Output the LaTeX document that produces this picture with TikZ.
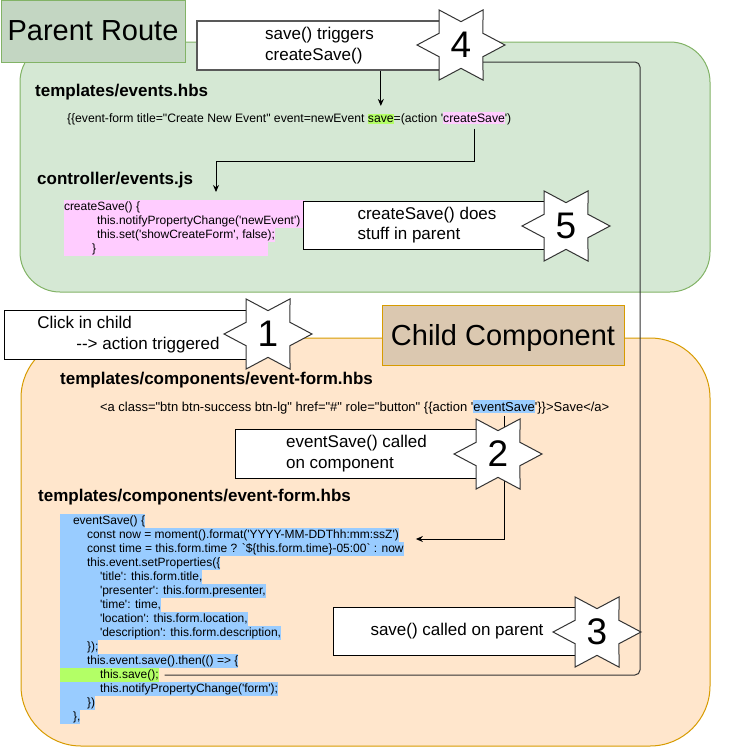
\documentclass[tikz,border=0pt]{standalone}
\usepackage{fontspec}
\setmainfont{Liberation Sans}[Ligatures=TeXOff]
\usetikzlibrary{positioning, arrows.meta, calc}

\definecolor{parentfill}{HTML}{D5E8D4}
\definecolor{parentline}{HTML}{82B366}
\definecolor{parenttitle}{HTML}{C3D6C2}
\definecolor{childfill}{HTML}{FFE6CC}
\definecolor{childline}{HTML}{D79B00}
\definecolor{childtitle}{HTML}{DBC8B0}
\definecolor{codeblue}{HTML}{99CCFF}
\definecolor{codegreen}{HTML}{B3FF66}
\definecolor{codepink}{HTML}{FFCCFF}

\newcommand{\titlefont}{\fontsize{29}{34}\selectfont}
\newcommand{\headfont}{\fontsize{17}{20}\selectfont\bfseries}
\newcommand{\notefont}{\fontsize{17}{20.5}\selectfont}
\newcommand{\codefont}{\fontsize{12}{14}\selectfont}
\newcommand{\digitfont}{\fontsize{37}{40}\selectfont}

% six-pointed star with its number
\newcommand{\numstar}[3]{%
  \path[starline] (#2) +(0:44 and 40.5)
    \foreach \k [evaluate=\k as \f using {1-0.423*mod(\k,2)}] in {1,...,11} {
      -- +(\k*30:{44*\f} and {40.5*\f})
    } -- cycle;
  \node[stardigit] (#1) at (#2) {#3};
}

\begin{document}
\begin{tikzpicture}
        [
            x=1pt, y=-1pt,
            region/.style={line width=1pt, rounded corners=#1},
            title/.style={draw, line width=1pt, font=\titlefont, inner sep=0pt, text depth=0pt},
            heading/.style={anchor=west, inner sep=0pt, font=\headfont, text height=12.2pt, text depth=0pt},
            note/.style={draw, fill=white, line width=1pt, font=\notefont, align=left, inner sep=0pt},
            codeln/.style={anchor=west, inner sep=0pt, outer sep=0pt, minimum height=14pt,
                text height=8.6pt, text depth=2.6pt, font=\codefont},
            codebit/.style={anchor=base west, inner xsep=0pt, inner ysep=1.5pt, outer sep=0pt,
                font=\fontsize{#1}{14}\selectfont},
            codebit/.default=12.2,
            flow/.style={line width=1pt, -{Stealth[length=7pt, width=6pt]}},
            link/.style={line width=1pt, rounded corners=5pt, draw=black!80},
            starline/.style={fill=white, draw=black!80, line width=1pt},
            stardigit/.style={inner sep=0pt, font=\digitfont},
        ]
        \useasboundingbox (0,0) rectangle (734,747);

        % regions
        \draw[region=40pt, fill=parentfill, draw=parentline] (20,42) rectangle (710,292);
        \draw[region=60pt, fill=childfill, draw=childline] (21,338) rectangle (710,746);
        \node[title, fill=parenttitle, draw=parentline, minimum width=184pt, minimum height=62pt] (parent) at (93,31) {Parent Route};
        \node[title, fill=childtitle, draw=childline, minimum width=242pt, minimum height=60pt] (child) at (503,335) {Child Component};

        % star centres
        \coordinate (st4) at (461,45);
        \coordinate (st5) at (566,226);
        \coordinate (st1) at (268,334);
        \coordinate (st2) at (498,454);
        \coordinate (st3) at (597,632);

        % parent route
        \node[heading] (hbshead) at (35,90) {templates/events.hbs};
        \node[codebit] (hbs1) at (67,122) {\{\{event-form title="Create New Event" event=newEvent\ \null};
        \node[codebit, fill=codegreen] (hbssave) at (hbs1.base east) {save};
        \node[codebit] (hbs2) at (hbssave.base east) {=(action '};
        \node[codebit, fill=codepink] (hbscs) at (hbs2.base east) {createSave};
        \node[codebit] (hbs3) at (hbscs.base east) {')};

        \node[heading] (ctrlhead) at (37,178) {controller/events.js};
        \node[codeln, fill=codepink] (cs1) at (64,207) {\makebox[241pt][l]{createSave() \{}};
        \node[codeln, fill=codepink] (cs2) at (64,221) {\makebox[241pt][l]{\hspace*{33pt}this.notifyPropertyChange('newEvent')}};
        \node[codeln, fill=codepink] (cs3) at (64,235) {\hspace*{33pt}this.set('showCreateForm', false);};
        \node[codeln, fill=codepink] (cs4) at (64,249) {\makebox[204pt][l]{\hspace*{28pt}\}}};

        % child component
        \node[heading] (formhead) at (60,378) {templates/components/event-form.hbs};
        \node[codebit=13] (lnk1) at (100,411) {<a class="btn btn-success btn-lg" href="\#" role="button" \{\{action '};
        \node[codebit=13, fill=codeblue] (lnkes) at (lnk1.base east) {eventSave};
        \node[codebit=13] (lnk2) at (lnkes.base east) {'\}\}>Save</a>};

        \node[heading] (comphead) at (38,495) {templates/components/event-form.hbs};
        \node[codeln, fill=codeblue] (c01) at (60,521) {\hspace*{13pt}eventSave() \{};
        \node[codeln, fill=codeblue] (c02) at (60,535) {\hspace*{27pt}const now = moment().format('YYYY-MM-DDThh:mm:ssZ')};
        \node[codeln, fill=codeblue] (c03) at (60,549) {\hspace*{27pt}const time = this.form.time ? `\$\{this.form.time\}-05:00` : now};
        \node[codeln, fill=codeblue] (c04) at (60,563) {\hspace*{27pt}this.event.setProperties(\{};
        \node[codeln, fill=codeblue] (c05) at (60,577) {\hspace*{40pt}'title': this.form.title,};
        \node[codeln, fill=codeblue] (c06) at (60,591) {\hspace*{40pt}'presenter': this.form.presenter,};
        \node[codeln, fill=codeblue] (c07) at (60,605) {\hspace*{40pt}'time': time,};
        \node[codeln, fill=codeblue] (c08) at (60,619) {\hspace*{40pt}'location': this.form.location,};
        \node[codeln, fill=codeblue] (c09) at (60,633) {\hspace*{40pt}'description': this.form.description,};
        \node[codeln, fill=codeblue] (c10) at (60,647) {\hspace*{27pt}\});};
        \node[codeln, fill=codeblue] (c11) at (60,661) {\hspace*{27pt}this.event.save().then(() => \{};
        \node[codeln, fill=codegreen] (c12) at (60,675) {\hspace*{40pt}this.save();};
        \node[codeln, fill=codeblue] (c13) at (60,689) {\hspace*{40pt}this.notifyPropertyChange('form');};
        \node[codeln, fill=codeblue] (c14) at (60,703) {\hspace*{27pt}\})};
        \node[codeln, fill=codeblue] (c15) at (60,717) {\hspace*{13pt}\},};

        % connectors
        \coordinate (ctrlin) at (216,192);
        \coordinate (rail) at (640,62);
        \draw[link] ([xshift=6pt]c12.east) -| (rail) -- (rail -| st4);
        \draw[flow] ([yshift=-5pt]hbscs.south) -- ++(0,33) -| (ctrlin);
        \draw[flow] ([yshift=-3pt]lnkes.south) |- ([xshift=17pt, yshift=-4pt]c02.east);

        % notes
        \node[note, draw=black!65, line width=1.5pt, minimum width=245pt, minimum height=49pt] (note4) at (319.5,45.5) {save() triggers\\createSave()};
        \draw[flow] (note4.south -| hbssave.north) -- ([yshift=8pt]hbssave.north);
        \node[note, minimum width=248pt, minimum height=48pt] (note5) at (427,225) {createSave() does\\stuff in parent};
        \node[note, minimum width=249pt, minimum height=49pt] (note1) at (128.5,334.5) {Click in child\\\hspace*{39pt}--> action triggered};
        \node[note, minimum width=243pt, minimum height=49pt] (note2) at (356.5,453.5) {eventSave() called\\on component};
        \node[note, minimum width=248pt, minimum height=48pt] (note3) at (457,631) {save() called on parent};

        % numbered stars
        \numstar{s4}{st4}{4}
        \numstar{s5}{st5}{5}
        \numstar{s1}{st1}{1}
        \numstar{s2}{st2}{2}
        \numstar{s3}{st3}{3}
    \end{tikzpicture}
\end{document}
